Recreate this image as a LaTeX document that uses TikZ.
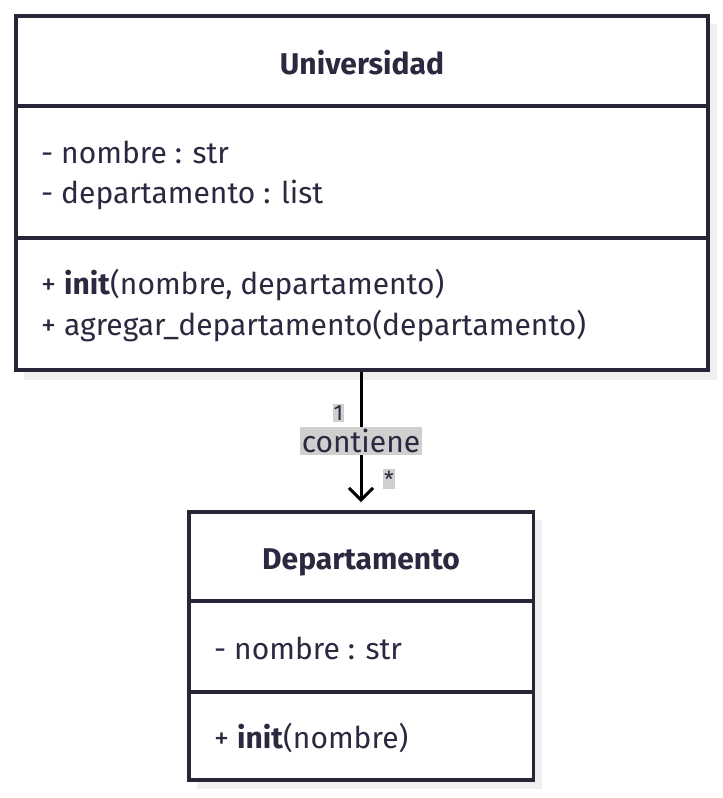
\documentclass[tikz,border=0pt]{standalone}
\usepackage{fontspec}
\setmainfont{Fira Sans}
\usetikzlibrary{arrows.meta}
\definecolor{ink}{HTML}{272638}
\definecolor{txt}{HTML}{2A2940}
\definecolor{shadowc}{HTML}{EFEFEF}
\definecolor{lblbg}{HTML}{CFCFCF}
\tikzset{
  boxline/.style={draw=ink, line width=3.2pt},
  shadowbox/.style={fill=shadowc, draw=none},
  member/.style={anchor=base west, text=txt, font=\fontsize{30}{36}\selectfont, inner sep=0pt},
  title/.style={anchor=base, text=txt, font=\fontsize{30}{36}\selectfont\bfseries, inner sep=0pt},
  lbl/.style={fill=lblbg, text=txt, inner xsep=1.5pt, inner ysep=2pt, font=\fontsize{30}{36}\selectfont},
  mult/.style={fill=lblbg, text=txt, inner xsep=1pt, inner ysep=2pt, font=\fontsize{22}{26}\selectfont},
}
\begin{document}
\begin{tikzpicture}[x=1pt,y=-1pt]
\useasboundingbox (0,0) rectangle (723,798);
% Universidad
\fill[shadowbox] (24,24) rectangle (717,380);
\fill[white] (16,16) rectangle (708,370);
\coordinate (uTL) at (16,16);
\coordinate (uBR) at (708,370);
\draw[boxline] (uTL) rectangle (uBR);
\draw[boxline] (16,106) -- (708,106);
\draw[boxline] (16,238) -- (708,238);
\node[title] (uname) at (362,74) {Universidad};
\node[member] (ua1) at (41,163) {- nombre : str};
\node[member] (ua2) at (41,203) {- departamento : list};
\node[member] (um1) at (41,294) {+ \textbf{init}(nombre, departamento)};
\node[member] (um2) at (41,335) {+ agregar\_departamento(departamento)};
% Departamento
\fill[shadowbox] (197,520) rectangle (542,789);
\fill[white] (189,512) rectangle (533.5,780);
\draw[boxline] (189,512) rectangle (533.5,780);
\draw[boxline] (189,601) -- (533.5,601);
\draw[boxline] (189,692) -- (533.5,692);
\node[title] (dname) at (361,569) {Departamento};
\node[member] (da1) at (214,659) {- nombre : str};
\node[member] (dm1) at (214,748) {+ \textbf{init}(nombre)};
% connector
\coordinate (src) at (361,372);
\coordinate (dst) at (361,502);
\draw[black, line width=3pt, -{Straight Barb[length=12pt,width=24pt,line width=3pt]}] (src) -- (dst);
\node[mult] (m1) at (338.5,413) {1};
\node[lbl] (rel) at (361,441) {contiene};
\node[mult] (m2) at (389,479) {*};
\end{tikzpicture}
\end{document}
